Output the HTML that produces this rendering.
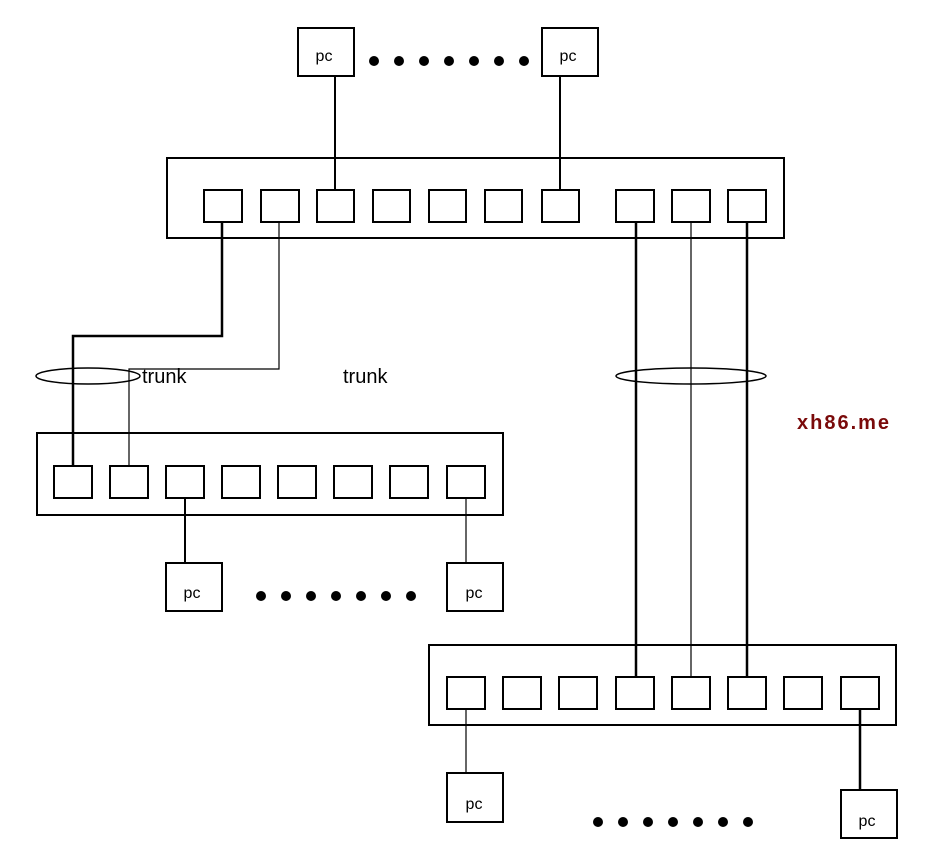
<!DOCTYPE html>
<html><head><style>body{margin:0;background:#fff}svg{display:block}</style></head>
<body>
<svg width="925" height="861" xmlns="http://www.w3.org/2000/svg" font-family="Liberation Sans, sans-serif">
<g fill="none" stroke="#000">
<rect x="298" y="28" width="56" height="48" stroke-width="2"/>
<rect x="542" y="28" width="56" height="48" stroke-width="2"/>
<rect x="167" y="158" width="617" height="80" stroke-width="2"/>
<g stroke-width="2">
<rect x="204" y="190" width="38" height="32"/><rect x="261" y="190" width="38" height="32"/>
<rect x="317" y="190" width="37" height="32"/><rect x="373" y="190" width="37" height="32"/>
<rect x="429" y="190" width="37" height="32"/><rect x="485" y="190" width="37" height="32"/>
<rect x="542" y="190" width="37" height="32"/><rect x="616" y="190" width="38" height="32"/>
<rect x="672" y="190" width="38" height="32"/><rect x="728" y="190" width="38" height="32"/>
</g>
<line x1="335" y1="76" x2="335" y2="190" stroke-width="2"/>
<line x1="560" y1="76" x2="560" y2="190" stroke-width="2"/>
<polyline points="222,222 222,336 73,336 73,466" stroke-width="2.5"/>
<polyline points="279,222 279,369 129,369 129,466" stroke-width="1.2"/>
<ellipse cx="88" cy="376" rx="52" ry="8" stroke-width="1.5"/>
<line x1="636" y1="222" x2="636" y2="677" stroke-width="2.5"/>
<line x1="691" y1="222" x2="691" y2="677" stroke-width="1.2"/>
<line x1="747" y1="222" x2="747" y2="677" stroke-width="2.5"/>
<ellipse cx="691" cy="376" rx="75" ry="8" stroke-width="1.5"/>
<rect x="37" y="433" width="466" height="82" stroke-width="2"/>
<g stroke-width="2">
<rect x="54" y="466" width="38" height="32"/><rect x="110" y="466" width="38" height="32"/>
<rect x="166" y="466" width="38" height="32"/><rect x="222" y="466" width="38" height="32"/>
<rect x="278" y="466" width="38" height="32"/><rect x="334" y="466" width="38" height="32"/>
<rect x="390" y="466" width="38" height="32"/><rect x="447" y="466" width="38" height="32"/>
</g>
<line x1="185" y1="498" x2="185" y2="563" stroke-width="2"/>
<line x1="466" y1="498" x2="466" y2="563" stroke-width="1.2"/>
<rect x="166" y="563" width="56" height="48" stroke-width="2"/>
<rect x="447" y="563" width="56" height="48" stroke-width="2"/>
<rect x="429" y="645" width="467" height="80" stroke-width="2"/>
<g stroke-width="2">
<rect x="447" y="677" width="38" height="32"/><rect x="503" y="677" width="38" height="32"/>
<rect x="559" y="677" width="38" height="32"/><rect x="616" y="677" width="38" height="32"/>
<rect x="672" y="677" width="38" height="32"/><rect x="728" y="677" width="38" height="32"/>
<rect x="784" y="677" width="38" height="32"/><rect x="841" y="677" width="38" height="32"/>
</g>
<line x1="466" y1="709" x2="466" y2="773" stroke-width="1.2"/>
<line x1="860" y1="709" x2="860" y2="790" stroke-width="2.5"/>
<rect x="447" y="773" width="56" height="49" stroke-width="2"/>
<rect x="841" y="790" width="56" height="48" stroke-width="2"/>
</g>
<g fill="#000">
<circle cx="374" cy="61" r="5"/><circle cx="399" cy="61" r="5"/><circle cx="424" cy="61" r="5"/><circle cx="449" cy="61" r="5"/><circle cx="474" cy="61" r="5"/><circle cx="499" cy="61" r="5"/><circle cx="524" cy="61" r="5"/>
<circle cx="261" cy="596" r="5"/><circle cx="286" cy="596" r="5"/><circle cx="311" cy="596" r="5"/><circle cx="336" cy="596" r="5"/><circle cx="361" cy="596" r="5"/><circle cx="386" cy="596" r="5"/><circle cx="411" cy="596" r="5"/>
<circle cx="598" cy="822" r="5"/><circle cx="623" cy="822" r="5"/><circle cx="648" cy="822" r="5"/><circle cx="673" cy="822" r="5"/><circle cx="698" cy="822" r="5"/><circle cx="723" cy="822" r="5"/><circle cx="748" cy="822" r="5"/>
</g>
<g font-size="16" text-anchor="middle" fill="#000">
<text x="324" y="61">pc</text><text x="568" y="61">pc</text>
<text x="192" y="598">pc</text><text x="474" y="598">pc</text>
<text x="474" y="809">pc</text><text x="867" y="826">pc</text>
</g>
<text x="142" y="383" font-size="20">trunk</text>
<text x="343" y="383" font-size="20">trunk</text>
<text x="797" y="429" font-size="20" font-weight="bold" letter-spacing="2" fill="#7a0a0a">xh86.me</text>
</svg>
</body></html>
